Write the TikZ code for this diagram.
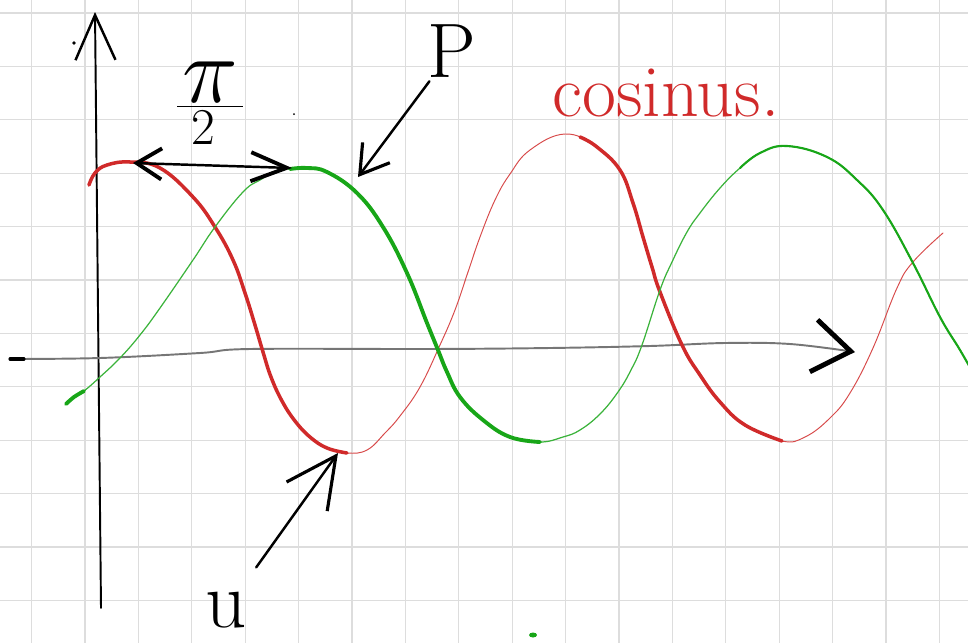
\documentclass[tikz,border=0pt]{standalone}
\usepackage{amsmath,amssymb}
\usepackage{tikz}
\usetikzlibrary{arrows.meta,calc,positioning}
\usepackage{xcolor}

\definecolor{gridgray}{RGB}{221,221,221}
\definecolor{penred}{RGB}{208,42,42}
\definecolor{pengreen}{RGB}{24,166,24}
\definecolor{axisgray}{RGB}{118,118,118}

\begin{document}
\begin{tikzpicture}[x=0.02cm, y=-0.02cm,
  gridline/.style={gridgray, line width=0.75pt},
  redthin/.style={penred!85, line width=0.55pt, line cap=round},
  redthick/.style={penred, line width=2pt, line cap=round, line join=round},
  greenthin/.style={pengreen!85, line width=0.7pt, line cap=round},
  greenmid/.style={pengreen, line width=1.2pt, line cap=round},
  greenthick/.style={pengreen, line width=2.2pt, line cap=round, line join=round},
  ink/.style={black, line width=1.4pt, line cap=round, line join=round},
  handlabel/.style={inner sep=2pt}]

\useasboundingbox (0,0) rectangle (968,643);

% Quadretti
\foreach \gx in {0,...,17}
  \draw[gridline] ({31.6+53.4*\gx},0) -- ({31.6+53.4*\gx},643);
\foreach \gy in {0,...,11}
  \draw[gridline] (0,{13+53.4*\gy}) -- (968,{13+53.4*\gy});

% Assi
\coordinate (ybot)   at (101,608);
\coordinate (ytip)   at (95,12);
\coordinate (xstart) at (10,359);
\coordinate (xtip)   at (855,352);
\draw[black, line width=1.1pt, line cap=round,
  -{Straight Barb[length=0.9cm, width=0.8cm, line width=1.4pt]}] (ybot) -- (ytip);
\draw[axisgray, line width=1.1pt, line cap=round,
  -{Straight Barb[black, length=0.75cm, width=1.05cm, line width=2.8pt]}]
  plot[smooth, tension=0.6] coordinates {(10,359) (100,358) (200,353) (250,349)
    (430,349) (550,348) (650,346) (725,343) (790,344) (855,352)};
\draw[black, line width=1.8pt, line cap=round] (xstart) -- (24,359);

% Coseno (rosso): tratto sottile e ripassature spesse
\draw[redthin] plot[smooth, tension=0.7] coordinates {(89,185) (95,173) (107,165)
  (130,162) (160,168) (193,197) (215,227) (233,260) (245,293) (255,325) (263,352)
  (271,377) (282,401) (295,421) (310,437) (327,448) (347,453) (367,450) (385,433)
  (400,416) (420,387) (440,345) (455,310) (468,272) (480,237) (495,200) (510,174)
  (530,150) (565,134) (597,147) (620,170) (633,203) (643,237) (652,267) (660,292)
  (682,345) (700,375) (720,402) (745,425) (782,441) (805,437) (830,418) (850,393)
  (873,348) (897,288) (913,262) (943,233)};
\draw[redthick] plot[smooth, tension=0.7] coordinates {(89,185) (95,173) (107,165)
  (130,162) (160,168) (193,197) (215,227) (233,260) (245,293) (255,325) (263,352)
  (271,377) (282,401) (295,421) (310,437) (327,448) (347,453)};
\draw[redthick] plot[smooth, tension=0.7] coordinates {(580,137) (597,147) (620,170)
  (633,203) (643,237) (652,267) (660,292) (682,345) (700,375) (720,402) (745,425)
  (782,441)};

% Seno (verde)
\draw[greenthin] plot[smooth, tension=0.7] coordinates {(66,404) (74,397) (84,391)
  (100,377) (120,358) (140,335) (160,308) (193,260) (215,227) (243,192) (260,180)
  (280,170) (307,168) (327,172) (357,193) (383,227) (407,273) (427,323) (438,350)
  (447,372) (460,397) (483,420) (510,437) (540,442) (563,437) (580,430) (600,414)
  (618,392) (631,370) (642,345) (660,290) (672,262) (687,232) (700,213) (720,188)
  (740,168) (760,153) (787,146) (827,157) (857,180) (883,210) (913,263) (940,317)
  (960,350) (976,378)};
\draw[greenthick] plot[smooth] coordinates {(66,404) (74,397) (84,391)};
\draw[greenthick] plot[smooth, tension=0.7] coordinates {(290,169) (307,168) (327,172)
  (357,193) (383,227) (407,273) (427,323) (438,350) (447,372) (460,397) (483,420)
  (510,437) (540,442)};
\draw[greenmid] plot[smooth, tension=0.7] coordinates {(740,168) (760,153) (787,146)
  (827,157) (857,180) (883,210) (913,263) (940,317) (960,350) (976,378)};

% Sfasamento pi/2
\coordinate (cpeak) at (133,163);
\coordinate (speak) at (292,168);
\draw[ink, {Straight Barb[length=0.5cm, width=0.62cm, line width=2.2pt]}-{Straight Barb[length=0.72cm, width=0.58cm, line width=2.2pt]}]
  (cpeak) -- (speak);
\node[handlabel, font=\fontsize{19}{23}\selectfont] (pilabel) at (210,90)
  {$\dfrac{\,\raisebox{-2em}{\scalebox{3.1}{$\pi$}}\,}{\scalebox{1.7}{$2$}}$};

% Etichette P e u
\node[handlabel, font=\fontsize{44}{50}\selectfont] (plabel) at (452,51) {P};
\coordinate (ptip) at (358,177);
\draw[ink, -{Straight Barb[length=0.55cm, width=0.68cm, line width=1.8pt]}] (plabel) -- (ptip);

\node[handlabel, anchor=base, font=\fontsize{46}{52}\selectfont] (ulabel) at (226,627) {u};
\coordinate (utip) at (338,453);
\draw[ink, shorten <=0.5cm, -{Straight Barb[length=1cm, width=1cm, line width=1.8pt]}] (ulabel) -- (utip);

\node[anchor=base west, inner sep=0pt, text=penred, font=\fontsize{42}{50}\selectfont] (cosname) at (552,116) {cosinus.};

% Punti sparsi
\fill (74,43) circle[radius=1.8];
\fill (294,114) circle[radius=1];
\fill[pengreen] (533,635) ellipse[x radius=4, y radius=2.5];

\end{tikzpicture}
\end{document}
